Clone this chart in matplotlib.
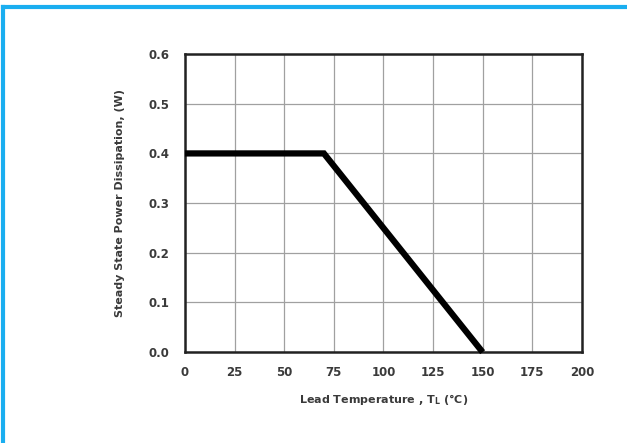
import matplotlib
matplotlib.use("Agg")
import matplotlib.pyplot as plt
from matplotlib.lines import Line2D

temps = [0, 70, 150]
power = [0.4, 0.4, 0.0]
xticks = [0, 25, 50, 75, 100, 125, 150, 175, 200]
yticks = [0.0, 0.1, 0.2, 0.3, 0.4, 0.5, 0.6]

plt.rcParams['font.family'] = ['DejaVu Sans']
fig = plt.figure(figsize=(6.27, 4.43), dpi=100)
ax = fig.add_axes([0.295, 0.205, 0.633, 0.673])
ax.plot(temps, power, color='black', lw=4.5, solid_capstyle='butt', solid_joinstyle='miter', clip_on=False, zorder=5)
ax.set_xlim(0, 200)
ax.set_ylim(0, 0.6)
ax.set_xticks(xticks)
ax.set_yticks(yticks)
ax.set_xticklabels([str(t) for t in xticks], fontsize=8.5, fontweight='bold', color='#3a3a3a')
ax.set_yticklabels([f"{v:.1f}" for v in yticks], fontsize=8.5, fontweight='bold', color='#3a3a3a')
ax.tick_params(axis='x', length=0, pad=10)
ax.tick_params(axis='y', length=0, pad=11)
ax.grid(True, color='#a0a0a0', lw=0.9)
for s in ax.spines.values():
    s.set_linewidth(1.8)
    s.set_color('#222222')
ax.set_xlabel('Lead Temperature , T$_\\mathregular{L}$ (°C)', fontsize=8, fontweight='bold', color='#3a3a3a', labelpad=9)
ax.set_ylabel('Steady State Power Dissipation, (W)', fontsize=8, fontweight='semibold', color='#3a3a3a', labelpad=17)

# cyan frame (top and left)
fig.add_artist(Line2D([0.005, 1.0], [0.984, 0.984], transform=fig.transFigure, color='#1aaef0', lw=3))
fig.add_artist(Line2D([0.005, 0.005], [0.0, 0.984], transform=fig.transFigure, color='#1aaef0', lw=3))

fig.savefig('out.png', dpi=100)
